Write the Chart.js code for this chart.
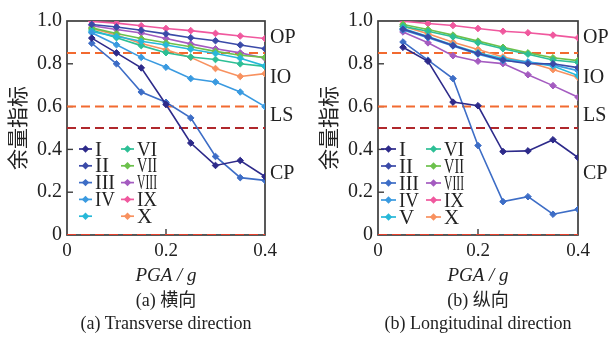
<!DOCTYPE html>
<html><head><meta charset="utf-8">
<script src="https://cdn.jsdelivr.net/npm/chart.js@4"></script>
<style>
html,body{margin:0;padding:0;background:#fff;}
#wrap{position:relative;width:611px;height:337px;overflow:hidden;background:#fff;}
canvas{position:absolute;top:0;}
.cap{position:absolute;width:260px;font-family:"Liberation Serif","Noto Sans CJK SC",serif;font-size:18px;line-height:22px;color:#222;text-align:center;white-space:nowrap;}
</style></head><body>
<div id="wrap">
<canvas id="c1" width="305" height="337" style="left:0"></canvas>
<canvas id="c2" width="300" height="337" style="left:311px"></canvas>
<div class="cap" style="left:36px;top:289px">(a) 横向</div>
<div class="cap" style="left:36px;top:312px">(a) Transverse direction</div>
<div class="cap" style="left:348px;top:289px">(b) 纵向</div>
<div class="cap" style="left:348px;top:312px">(b) Longitudinal direction</div>
</div>
<script>
// ---------- data ----------
const pga = [0.05, 0.10, 0.15, 0.20, 0.25, 0.30, 0.35, 0.40];
const seriesNames = ['I','II','III','IV','V','VI','VII','VIII','IX','X'];
const legendNamesT = ['I','II','III','IV','','VI','VII','VIII','IX','X'];
const legendNamesL = ['I','II','III','IV','V','VI','VII','VIII','IX','X'];
const yTickLabels = ['0','0.2','0.4','0.6','0.8','1.0'];
const xTickLabels = ['0','0.2','0.4'];
const bandLabels = ['OP','IO','LS','CP'];
const thresholds = [0.85, 0.60, 0.50, 0.0];

// Transverse direction
const T_I    = [0.920, 0.851, 0.781, 0.610, 0.430, 0.325, 0.348, 0.273];
const T_II   = [0.984, 0.972, 0.957, 0.940, 0.922, 0.908, 0.888, 0.870];
const T_III  = [0.896, 0.800, 0.668, 0.620, 0.547, 0.367, 0.268, 0.255];
const T_IV   = [0.945, 0.889, 0.830, 0.784, 0.731, 0.715, 0.668, 0.600];
const T_V    = [0.950, 0.928, 0.905, 0.888, 0.868, 0.848, 0.826, 0.790];
const T_VI   = [0.958, 0.922, 0.885, 0.852, 0.832, 0.820, 0.800, 0.788];
const T_VII  = [0.968, 0.942, 0.918, 0.898, 0.880, 0.858, 0.840, 0.830];
const T_VIII = [0.978, 0.960, 0.944, 0.918, 0.893, 0.870, 0.851, 0.826];
const T_IX   = [0.998, 0.990, 0.978, 0.965, 0.955, 0.942, 0.930, 0.918];
const T_X    = [0.965, 0.935, 0.895, 0.866, 0.830, 0.778, 0.741, 0.754];

// Longitudinal direction
const L_I    = [0.877, 0.812, 0.621, 0.604, 0.390, 0.393, 0.445, 0.362];
const L_II   = [0.962, 0.925, 0.885, 0.848, 0.818, 0.800, 0.800, 0.782];
const L_III  = [0.902, 0.817, 0.731, 0.418, 0.156, 0.179, 0.097, 0.120];
const L_IV   = [0.958, 0.922, 0.883, 0.845, 0.815, 0.808, 0.795, 0.768];
const L_V    = [0.965, 0.928, 0.888, 0.852, 0.825, 0.808, 0.790, 0.745];
const L_VI   = [0.975, 0.952, 0.926, 0.898, 0.870, 0.845, 0.818, 0.806];
const L_VII  = [0.984, 0.960, 0.934, 0.906, 0.877, 0.851, 0.828, 0.815];
const L_VIII = [0.949, 0.898, 0.838, 0.812, 0.801, 0.749, 0.698, 0.644];
const L_IX   = [0.999, 0.988, 0.979, 0.965, 0.952, 0.945, 0.934, 0.921];
const L_X    = [0.976, 0.940, 0.901, 0.867, 0.832, 0.807, 0.773, 0.737];

const transverseSeries = [T_I,T_II,T_III,T_IV,T_V,T_VI,T_VII,T_VIII,T_IX,T_X];
const longitudinalSeries = [L_I,L_II,L_III,L_IV,L_V,L_VI,L_VII,L_VIII,L_IX,L_X];

// ---------- style ----------
const colors = ['#2d2a8a','#3a4aa8','#3d6dc6','#3a9ae0','#27b8d8','#2dbf95','#6cc14c','#a45bc0','#f0589e','#f8915f'];
const threshColors = ['#f26a30','#f26a30','#b0282c','#e8412c'];
const SERIF = '"Liberation Serif", "Times New Roman", serif';
const CJK = '"Noto Sans CJK SC", sans-serif';
const TXT = '#222';

function buildDatasets(seriesArr, legendNames) {
  const ds = seriesArr.map((vals, i) => ({
    label: seriesNames[i],
    legendText: legendNames[i],
    data: vals.map((v, k) => ({x: pga[k], y: v})),
    borderColor: colors[i],
    backgroundColor: colors[i],
    borderWidth: 1.6,
    pointStyle: 'rectRot',
    pointRadius: 3.3,
    pointBorderWidth: 1,
    pointBackgroundColor: colors[i],
    pointBorderColor: colors[i],
    tension: 0,
    order: 1,
    isSeries: true
  }));
  thresholds.forEach((t, i) => {
    ds.push({
      label: 'th' + i,
      data: [{x: 0, y: t}, {x: 0.4, y: t}],
      borderColor: threshColors[i],
      borderWidth: 2,
      borderDash: [9, 5],
      pointRadius: 0,
      order: 5,
      isSeries: false
    });
  });
  return ds;
}

const decoPlugin = {
  id: 'deco',
  beforeDatasetsDraw(chart) {
    const {ctx, chartArea: a} = chart;
    const ys = chart.scales.y, xs = chart.scales.x;
    ctx.save();
    ctx.strokeStyle = '#3c3c3c';
    ctx.lineWidth = 1.7;
    ctx.strokeRect(a.left, a.top, a.right - a.left, a.bottom - a.top);
    ctx.lineWidth = 1.4;
    ys.ticks.forEach(t => {
      if (t.value <= 0 || t.value >= 1) return;
      const y = ys.getPixelForValue(t.value);
      ctx.beginPath(); ctx.moveTo(a.left, y); ctx.lineTo(a.left + 6, y); ctx.stroke();
    });
    xs.ticks.forEach(t => {
      if (t.value <= 0 || t.value >= 0.4 - 1e-9) return;
      const x = xs.getPixelForValue(t.value);
      ctx.beginPath(); ctx.moveTo(x, a.bottom); ctx.lineTo(x, a.bottom - 6); ctx.stroke();
    });
    ctx.restore();
  },
  afterDatasetsDraw(chart, args, opts) {
    const {ctx, chartArea: a} = chart;
    const ys = chart.scales.y;
    ctx.save();
    // band labels
    ctx.fillStyle = TXT;
    ctx.font = '20px ' + SERIF;
    ctx.textBaseline = 'middle';
    ctx.textAlign = 'left';
    bandLabels.forEach((lab, i) => {
      ctx.fillText(lab, a.right + opts.bandDx, ys.getPixelForValue(opts.bandPos[i]));
    });
    // legend
    const series = chart.data.datasets.filter(d => d.isSeries);
    series.forEach((d, i) => {
      const col = Math.floor(i / 5), row = i % 5;
      const lx = a.left + opts.legCols[col];
      const y = a.top + opts.legTop + row * opts.legRow;
      ctx.strokeStyle = d.borderColor;
      ctx.fillStyle = d.borderColor;
      ctx.lineWidth = 1.7;
      ctx.beginPath(); ctx.moveTo(lx, y); ctx.lineTo(lx + opts.legLine, y); ctx.stroke();
      const mx = lx + opts.legLine / 2;
      ctx.beginPath();
      ctx.moveTo(mx, y - 3.7); ctx.lineTo(mx + 3.7, y); ctx.lineTo(mx, y + 3.7); ctx.lineTo(mx - 3.7, y); ctx.closePath();
      ctx.fill();
      ctx.fillStyle = TXT;
      ctx.font = '21px ' + SERIF;
      ctx.textBaseline = 'middle';
      if (d.legendText) ctx.fillText(d.legendText, lx + opts.legLine + 3, y + 1, 20);
    });
    ctx.restore();
  }
};

function makeChart(id, seriesArr, legendNames, padRight, legOpts) {
  return new Chart(document.getElementById(id), {
    type: 'line',
    data: {datasets: buildDatasets(seriesArr, legendNames)},
    options: {
      responsive: false,
      animation: false,
      layout: {padding: {top: 21, left: 0, right: padRight, bottom: 47}},
      plugins: {
        legend: {display: false},
        tooltip: {enabled: false},
        deco: Object.assign({bandDx: 5, bandPos: [0.92, 0.735, 0.555, 0.285]}, legOpts)
      },
      scales: {
        x: {
          type: 'linear', min: 0, max: 0.4,
          border: {display: false},
          grid: {display: false, drawTicks: false},
          ticks: {stepSize: 0.2, padding: 5, color: TXT, maxRotation: 0,
                  font: {family: SERIF, size: 19},
                  callback: (v, i) => xTickLabels[i] !== undefined ? xTickLabels[i] : ''},
          title: {display: true, text: 'PGA / g', color: TXT,
                  font: {family: SERIF, size: 19, style: 'italic'},
                  padding: {top: 0, bottom: 3}},
          afterFit: s => { s.height = 55; }
        },
        y: {
          min: 0, max: 1,
          border: {display: false},
          grid: {display: false, drawTicks: false},
          ticks: {stepSize: 0.2, padding: 5, color: TXT,
                  font: {family: SERIF, size: 20},
                  callback: (v, i) => yTickLabels[i] !== undefined ? yTickLabels[i] : ''},
          title: {display: true, text: '余量指标', color: TXT,
                  font: {family: CJK, size: 21},
                  padding: {top: 4, bottom: 0}},
          afterFit: s => { s.width = 67; }
        }
      }
    },
    plugins: [decoPlugin]
  });
}

makeChart('c1', transverseSeries, legendNamesT, 40,
  {legCols: [12, 54], legLine: 13, legTop: 128, legRow: 16.8});
makeChart('c2', longitudinalSeries, legendNamesL, 33,
  {legCols: [3, 48], legLine: 15, legTop: 128, legRow: 17});
</script>
</body></html>
